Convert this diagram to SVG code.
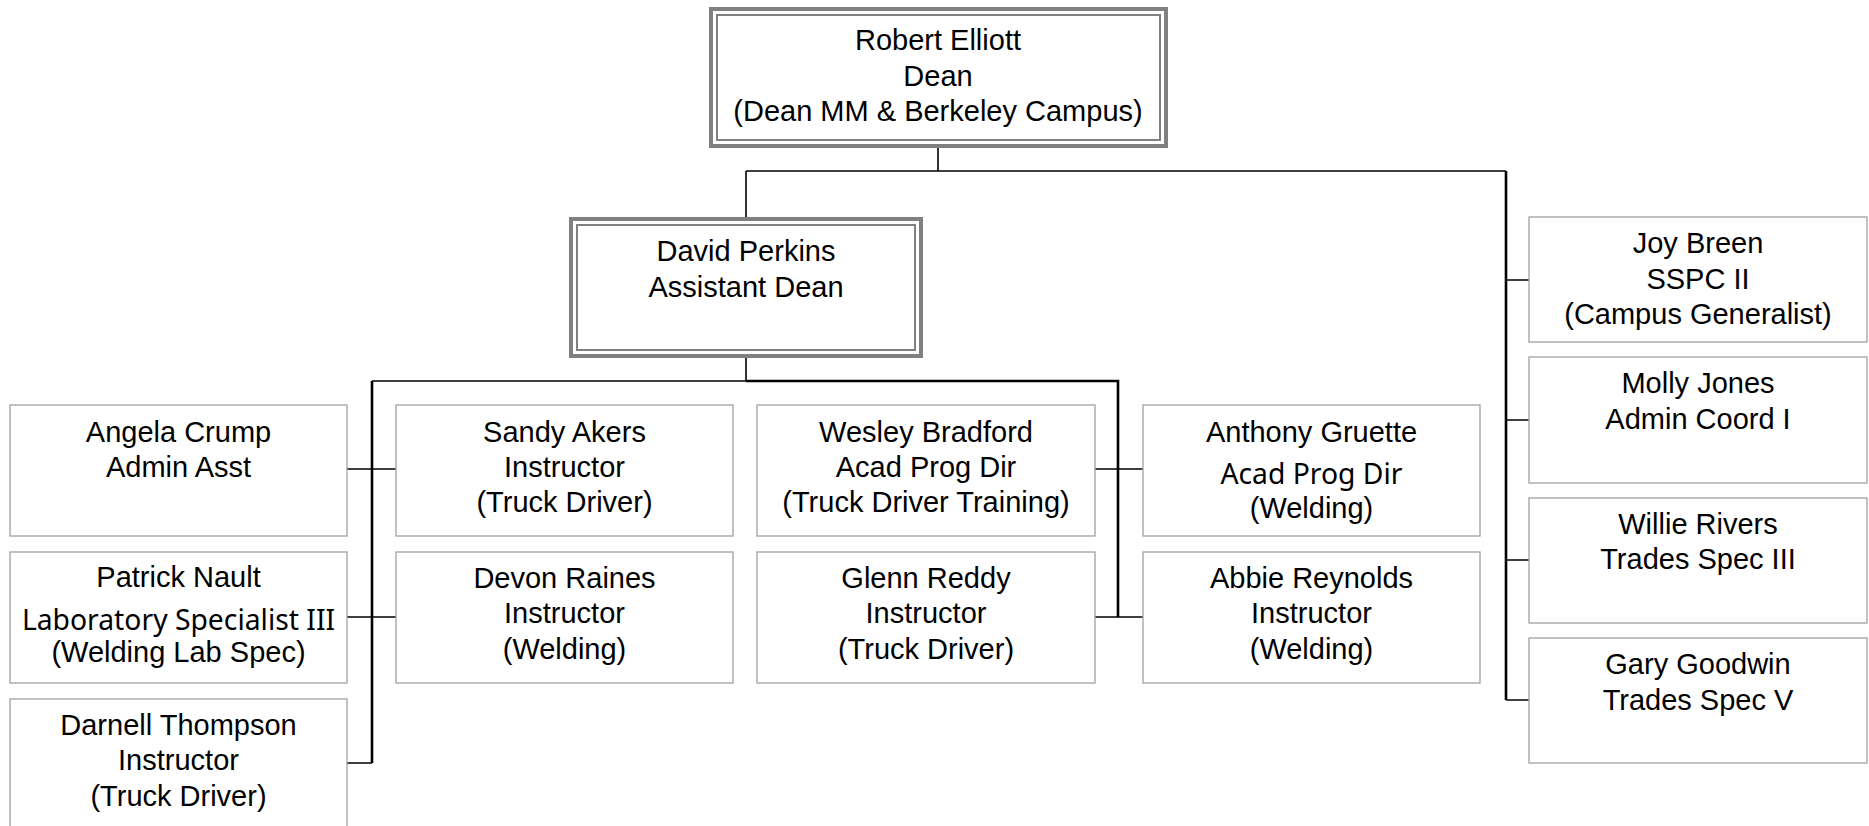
<svg xmlns="http://www.w3.org/2000/svg" width="1869" height="826" viewBox="0 0 1869 826">
<style>
.bg{fill:#ffffff}
.box{fill:#ffffff;stroke:#a0a0a0;stroke-width:1.3}
.outer{fill:#ffffff;stroke:#808080;stroke-width:4}
.inner{fill:none;stroke:#808080;stroke-width:2}
text{font-family:"Liberation Sans",Arial,sans-serif;font-size:29px;fill:#000;text-anchor:middle}
text .alt{font-family:"Noto Sans","Open Sans",sans-serif;font-size:28.3px}
.thin{stroke:#000;stroke-width:1.6;fill:none}
.thick{stroke:#000;stroke-width:2.6;fill:none}
</style>
<rect class="bg" x="0" y="0" width="1869" height="826"/>
<g id="connectors">
<path class="thin" d="M938 147 V171 M746 171 V217 M746 358 V381 M372 381 H746"/>
<path class="thin" d="M746 171 H1506"/>
<path class="thick" d="M746 381 H1118 V617 M372 381 V763"/>
<path class="thick" d="M1506 171 V700"/>
<path class="thin" d="M347 469 H396 M347 617 H396 M347 763 H372 M1095 469 H1143 M1095 617 H1143 M1506 280 H1529 M1506 420 H1529 M1506 560 H1529 M1506 700 H1529"/>
</g>
<g id="robert-elliott">
<rect class="outer" x="711" y="9" width="455" height="137"/>
<rect class="inner" x="717" y="15" width="443" height="125"/>
<text x="938" y="50">Robert Elliott</text>
<text x="938" y="86">Dean</text>
<text x="938" y="121">(Dean MM &amp; Berkeley Campus)</text>
</g>
<g id="david-perkins">
<rect class="outer" x="571" y="219" width="350" height="137"/>
<rect class="inner" x="577" y="225" width="338" height="125"/>
<text x="746" y="261">David Perkins</text>
<text x="746" y="297">Assistant Dean</text>
</g>
<g id="angela-crump">
<rect class="box" x="10" y="405" width="337" height="131"/>
<text x="178.5" y="442">Angela Crump</text>
<text x="178.5" y="477">Admin Asst</text>
</g>
<g id="patrick-nault">
<rect class="box" x="10" y="552" width="337" height="131"/>
<text x="178.5" y="587">Patrick Nault</text>
<text x="178.5" y="630"><tspan class="alt">Laboratory Specialist III</tspan></text>
<text x="178.5" y="662">(Welding Lab Spec)</text>
</g>
<g id="darnell-thompson">
<rect class="box" x="10" y="699" width="337" height="140"/>
<text x="178.5" y="735">Darnell Thompson</text>
<text x="178.5" y="770">Instructor</text>
<text x="178.5" y="806">(Truck Driver)</text>
</g>
<g id="sandy-akers">
<rect class="box" x="396" y="405" width="337" height="131"/>
<text x="564.5" y="442">Sandy Akers</text>
<text x="564.5" y="477">Instructor</text>
<text x="564.5" y="512">(Truck Driver)</text>
</g>
<g id="devon-raines">
<rect class="box" x="396" y="552" width="337" height="131"/>
<text x="564.5" y="588">Devon Raines</text>
<text x="564.5" y="623">Instructor</text>
<text x="564.5" y="659">(Welding)</text>
</g>
<g id="wesley-bradford">
<rect class="box" x="757" y="405" width="338" height="131"/>
<text x="926" y="442">Wesley Bradford</text>
<text x="926" y="477">Acad Prog Dir</text>
<text x="926" y="512">(Truck Driver Training)</text>
</g>
<g id="glenn-reddy">
<rect class="box" x="757" y="552" width="338" height="131"/>
<text x="926" y="588">Glenn Reddy</text>
<text x="926" y="623">Instructor</text>
<text x="926" y="659">(Truck Driver)</text>
</g>
<g id="anthony-gruette">
<rect class="box" x="1143" y="405" width="337" height="131"/>
<text x="1311.5" y="442">Anthony Gruette</text>
<text x="1311.5" y="484"><tspan class="alt">Acad Prog Dir</tspan></text>
<text x="1311.5" y="518">(Welding)</text>
</g>
<g id="abbie-reynolds">
<rect class="box" x="1143" y="552" width="337" height="131"/>
<text x="1311.5" y="588">Abbie Reynolds</text>
<text x="1311.5" y="623">Instructor</text>
<text x="1311.5" y="659">(Welding)</text>
</g>
<g id="joy-breen">
<rect class="box" x="1529" y="217" width="338" height="125"/>
<text x="1698" y="253">Joy Breen</text>
<text x="1698" y="289">SSPC II</text>
<text x="1698" y="324">(Campus Generalist)</text>
</g>
<g id="molly-jones">
<rect class="box" x="1529" y="357" width="338" height="126"/>
<text x="1698" y="393">Molly Jones</text>
<text x="1698" y="429">Admin Coord I</text>
</g>
<g id="willie-rivers">
<rect class="box" x="1529" y="498" width="338" height="125"/>
<text x="1698" y="534">Willie Rivers</text>
<text x="1698" y="569">Trades Spec III</text>
</g>
<g id="gary-goodwin">
<rect class="box" x="1529" y="638" width="338" height="125"/>
<text x="1698" y="674">Gary Goodwin</text>
<text x="1698" y="710">Trades Spec V</text>
</g>
</svg>
